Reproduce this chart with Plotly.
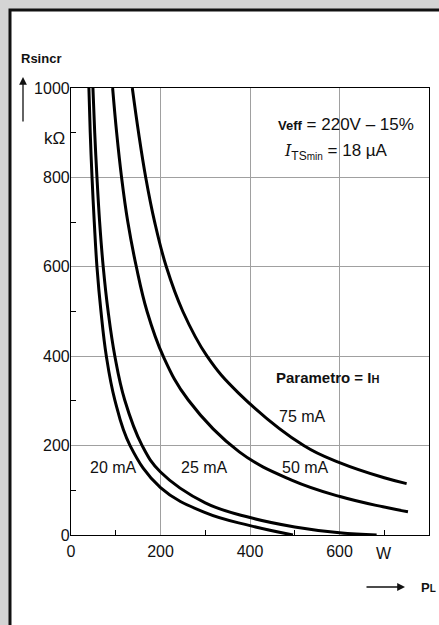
import plotly.graph_objects as go

# ---- data ----
x_20mA = [40, 43, 47, 52, 58, 67, 79, 98, 132, 200, 300, 400, 496]
y_20mA = [1000, 900, 800, 700, 600, 500, 400, 302, 200, 106, 50, 21, 0]

x_25mA = [49, 53, 58, 64, 72, 83, 98, 120, 159, 200, 300, 400, 500, 600, 683]
y_25mA = [1000, 900, 800, 700, 600, 500, 400, 302, 200, 141, 72, 39, 18, 5, 0]

x_50mA = [93, 102, 113, 127, 146, 170, 206, 262, 376, 493, 601, 697, 753]
y_50mA = [1000, 900, 800, 700, 600, 500, 400, 302, 186, 123, 86, 63, 52]

x_75mA = [137, 151, 167, 187, 213, 250, 304, 375, 520, 600, 700, 750]
y_75mA = [1000, 900, 800, 700, 600, 500, 400, 317, 200, 162, 128, 115]

x_ticks = [0, 200, 400, 600, 800]
x_ticktext = ["0", "200", "400", "600", "800"]
y_ticks = [0, 200, 400, 600, 800, 1000]
y_ticktext = ["0", "200", "400", "600", "800", "1000"]

series = [
    ("20 mA", x_20mA, y_20mA),
    ("25 mA", x_25mA, y_25mA),
    ("50 mA", x_50mA, y_50mA),
    ("75 mA", x_75mA, y_75mA),
]

NUM = "Liberation Sans, Arial, Helvetica, sans-serif"
SANS = "Liberation Sans, Arial, Helvetica, sans-serif"

W, H = 439, 625
ML, MR, MT, MB = 71, 10, 88, 90
PW, PH = W - ML - MR, H - MT - MB


def px(x):
    return (x - ML) / PW


def py(y):
    return (H - MB - y) / PH


fig = go.Figure()
for name, xs, ys in series:
    fig.add_trace(go.Scatter(
        x=xs, y=ys, mode="lines", name=name,
        line=dict(color="black", width=3, shape="spline", smoothing=1.15),
        showlegend=False, hoverinfo="skip"))

axis_common = dict(
    showline=True, linecolor="black", linewidth=1.2, mirror=True,
    showgrid=True, gridcolor="#a0a0a0", gridwidth=1,
    zeroline=False, ticks="", fixedrange=True,
    tickfont=dict(family=NUM, size=16, color="#111"),
)

fig.update_xaxes(
    range=[0, 800], tickmode="array", tickvals=x_ticks, ticktext=x_ticktext,
    ticklabelstandoff=2,
    minor=dict(tickvals=[100, 300, 500, 700], ticks="inside", ticklen=5,
               tickcolor="black", showgrid=False),
    **axis_common)
fig.update_yaxes(
    range=[0, 1000], tickmode="array", tickvals=y_ticks, ticktext=y_ticktext,
    ticklabelstandoff=-3,
    minor=dict(tickvals=[100, 300, 500, 700, 900], ticks="inside", ticklen=5,
               tickcolor="black", showgrid=False),
    **axis_common)

C = dict(xanchor="center", yanchor="middle", showarrow=False)
ann = []
lab_font = dict(family=NUM, size=16, color="#111")
for text, x, y in [("20 mA", 94, 152), ("25 mA", 299, 152),
                   ("75 mA", 518, 264), ("50 mA", 525, 150)]:
    ann.append(dict(x=x, y=y, xref="x", yref="y", text=text, font=lab_font, **C))

ann.append(dict(x=px(346), y=py(124), xref="paper", yref="paper",
                text=("<span style='font-weight:bold;font-size:13px'>Veff</span>"
                      " = 220V – 15%"),
                font=dict(family=NUM, size=17, color="#111"), **C))
ann.append(dict(x=px(336), y=py(152), xref="paper", yref="paper",
                text=("<span style='font-family:DejaVu Serif;font-style:italic;font-size:16px'>I</span>"
                      "<sub><span style='font-size:12px'>TS</span><span style='font-size:10px'>min</span></sub>"
                      " = 18 µA"),
                font=dict(family=NUM, size=17, color="#111"), **C))
ann.append(dict(x=px(327), y=py(377), xref="paper", yref="paper",
                text="Parametro = I<span style='font-size:11px'>H</span>",
                font=dict(family=SANS, size=15, color="#111", weight="bold"), **C))
ann.append(dict(x=px(384), y=py(553), xref="paper", yref="paper",
                text="W", font=dict(family=NUM, size=16, color="#111"), **C))
ann.append(dict(x=px(54), y=py(138), xref="paper", yref="paper",
                text="kΩ", font=dict(family=NUM, size=17, color="#111"), **C))
ann.append(dict(x=px(41), y=py(58), xref="paper", yref="paper",
                text="Rsincr", font=dict(family=SANS, size=13, color="#111", weight="bold"), **C))
ann.append(dict(x=px(428), y=py(587), xref="paper", yref="paper",
                text="P<span style='font-size:10px'>L</span>",
                font=dict(family=SANS, size=13, color="#111", weight="bold"), **C))
# y-axis arrow
ann.append(dict(x=px(23), y=py(77), xref="paper", yref="paper", text="",
                showarrow=True, ax=0, ay=46, arrowhead=2, arrowsize=1.2,
                arrowwidth=1.3, arrowcolor="#111"))
# x-axis arrow
ann.append(dict(x=px(405), y=py(587), xref="paper", yref="paper", text="",
                showarrow=True, ax=-40, ay=0, arrowhead=2, arrowsize=1.2,
                arrowwidth=1.3, arrowcolor="#111"))

shapes = [dict(type="rect", xref="paper", yref="paper", layer="below",
               x0=px(10), y0=py(H + 20), x1=px(W + 20), y1=py(10),
               fillcolor="white", line=dict(color="#111", width=3))]

fig.update_layout(
    width=W, height=H, autosize=False,
    margin=dict(l=ML, r=MR, t=MT, b=MB, pad=0),
    paper_bgcolor="#d4d4d4", plot_bgcolor="white",
    annotations=ann, shapes=shapes,
)

fig.write_html("out.html", config={"displayModeBar": False},
               post_script="document.body.style.margin='0';document.body.style.overflow='hidden';")
